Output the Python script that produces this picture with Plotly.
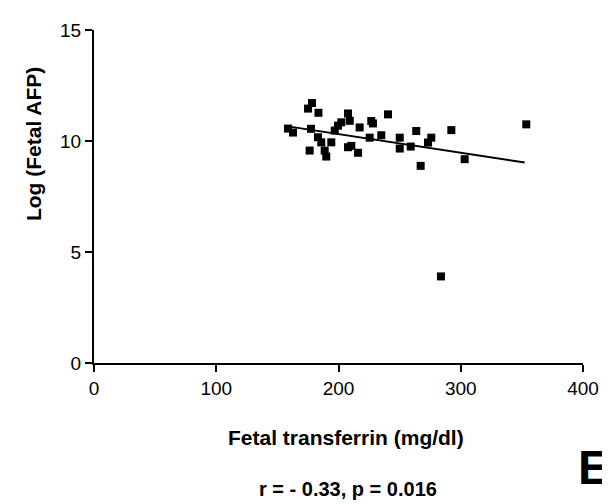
import plotly.graph_objects as go

# Data
transferrin = [158.7, 162.8, 178.3, 175.1, 183.6, 177.5, 183.2, 185.9, 176.4, 188.7,
               190.0, 194.1, 199.6, 202.3, 196.9, 207.8, 209.2, 217.3, 207.8, 216.0,
               210.5, 226.8, 228.2, 240.5, 235.0, 225.5, 250.1, 250.1, 259.1, 263.6,
               273.2, 275.9, 267.2, 292.3, 303.2, 353.6, 283.8]
log_afp = [10.56, 10.38, 11.71, 11.46, 11.27, 10.55, 10.17, 9.94, 9.57, 9.57,
           9.30, 9.94, 10.69, 10.84, 10.47, 11.24, 10.91, 10.61, 9.72, 9.47,
           9.78, 10.90, 10.79, 11.20, 10.26, 10.15, 10.15, 9.66, 9.75, 10.45,
           9.93, 10.15, 8.88, 10.49, 9.18, 10.75, 3.90]

# Regression line as drawn in the reference
fit_x = [157.3, 352.3]
fit_y = [10.67, 9.03]

x_ticks = [0, 100, 200, 300, 400]
y_ticks = [0, 5, 10, 15]

FONT = "Liberation Sans, Arial, Helvetica, sans-serif"

fig = go.Figure()
fig.add_trace(go.Scatter(x=fit_x, y=fit_y, mode="lines",
                         line=dict(color="black", width=2), showlegend=False))
fig.add_trace(go.Scatter(x=transferrin, y=log_afp, mode="markers",
                         marker=dict(symbol="square", size=8, color="black"),
                         showlegend=False))

axis_common = dict(showgrid=False, zeroline=False, showline=True, linecolor="black",
                   linewidth=2, ticks="outside", ticklen=7, tickwidth=2,
                   tickcolor="black", tickfont=dict(family=FONT, size=19, color="black"))

fig.update_xaxes(range=[0, 400], tickvals=x_ticks, **axis_common)
fig.update_yaxes(range=[0, 15], tickvals=y_ticks, **axis_common)

fig.update_layout(
    width=610, height=504,
    margin=dict(l=86, r=35, t=20, b=149),
    plot_bgcolor="white", paper_bgcolor="white",
    font=dict(family=FONT, color="black"),
    annotations=[
        dict(text="<b>Fetal transferrin (mg/dl)</b>", xref="paper", yref="paper",
             x=0.515, y=-0.224, showarrow=False, xanchor="center", yanchor="middle",
             font=dict(family=FONT, size=21, color="black")),
        dict(text="<b>Log (Fetal AFP)</b>", xref="paper", yref="paper",
             x=-0.125, y=0.657, showarrow=False, xanchor="center", yanchor="middle",
             textangle=-90, font=dict(family=FONT, size=21, color="black")),
        dict(text="<b>r = - 0.33, p = 0.016</b>", xref="paper", yref="paper",
             x=0.52, y=-0.379, showarrow=False, xanchor="center", yanchor="middle",
             font=dict(family=FONT, size=20, color="black")),
        dict(text="<b>E</b>", xref="paper", yref="paper",
             x=1.059, y=-0.40, showarrow=False, xanchor="right", yanchor="bottom",
             font=dict(family=FONT, size=48, color="black")),
    ],
)

fig.write_html("out.html")
